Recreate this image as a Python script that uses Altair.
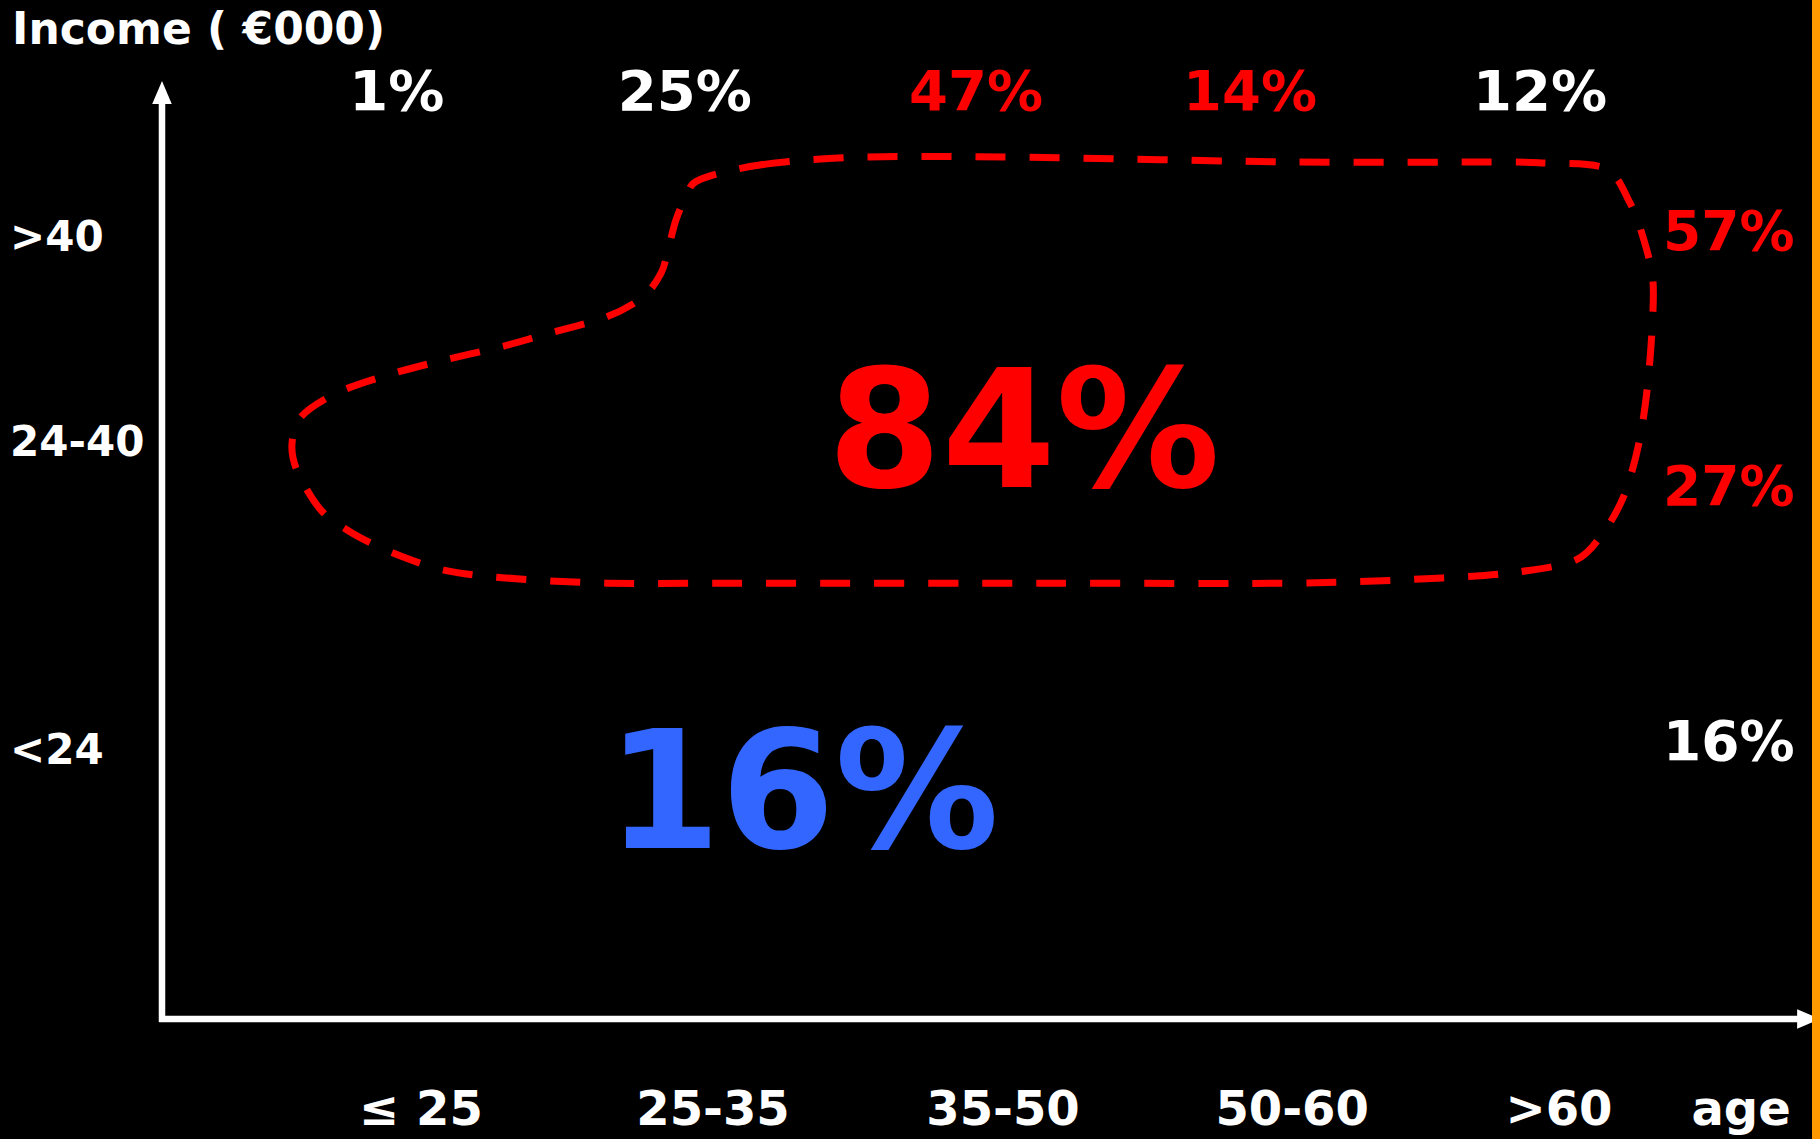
import altair as alt
import pandas as pd

# ---- data (x in "age units" from the axis origin, y in "income units") ----
# dashed boundary of the 84% region (clockwise)
loop_x = [1.852, 2.062, 2.414, 2.941, 3.910, 4.586, 4.755, 4.976, 5.062, 5.110,
          5.141, 5.138, 5.121, 5.093, 5.045, 4.976, 4.876, 4.672, 4.417, 3.910,
          3.062, 2.062, 1.534, 1.183, 0.972, 0.797, 0.655, 0.548, 0.469, 0.448,
          0.479, 0.603, 0.779, 0.972, 1.166, 1.341, 1.534, 1.659, 1.721, 1.745,
          1.772, 1.807]
loop_y = [2.893, 2.945, 2.972, 2.972, 2.955, 2.955, 2.952, 2.934, 2.814, 2.686,
          2.548, 2.376, 2.169, 1.986, 1.814, 1.686, 1.583, 1.541, 1.521, 1.503,
          1.503, 1.503, 1.503, 1.521, 1.548, 1.607, 1.676, 1.755, 1.883, 1.979,
          2.076, 2.159, 2.221, 2.272, 2.317, 2.366, 2.421, 2.490, 2.572, 2.652,
          2.755, 2.834]

age_labels = ["\u2264 25", "25-35", "35-50", "50-60", ">60", "age"]
age_x = [0.893, 1.900, 2.900, 3.897, 4.817, 5.445]
age_y = [-0.307] * 6

income_labels = [">40", "24-40", "<24"]
income_y = [2.700, 1.993, 0.931]

top_labels = ["1%", "25%", "47%", "14%", "12%"]
top_x = [0.810, 1.803, 2.807, 3.752, 4.752]
top_colors = ["white", "white", "#FF0000", "#FF0000", "white"]

right_labels = ["57%", "27%", "16%"]
right_y = [2.724, 1.845, 0.966]
right_colors = ["#FF0000", "#FF0000", "white"]

big_labels = ["84%", "16%"]
big_x = [2.972, 2.210]
big_y = [2.024, 0.779]
big_colors = ["#FF0000", "#3366FF"]

title_text = ["Income ( \u20ac000)"]

FONT = "DejaVu Sans"
X = alt.Scale(domain=[-0.55862, 5.71724], nice=False, zero=False)
Y = alt.Scale(domain=[-0.41379, 3.51379], nice=False, zero=False)


def xe(f="x"):
    return alt.X(f"{f}:Q", scale=X, axis=None)


def ye(f="y"):
    return alt.Y(f"{f}:Q", scale=Y, axis=None)


loop_df = pd.DataFrame({"x": loop_x, "y": loop_y, "o": list(range(len(loop_x)))})
loop = alt.Chart(loop_df).mark_line(
    color="#FF0000", strokeWidth=7, strokeDash=[30, 24], strokeCap="butt",
    interpolate="cardinal-closed", tension=0.1
).encode(x=xe(), y=ye(), order="o:Q")

# axes
vaxis = alt.Chart(pd.DataFrame({"x": [0.0], "y": [-0.01], "y2": [3.186]})).mark_rule(
    color="white", strokeWidth=6.5).encode(x=xe(), y=ye(), y2="y2:Q")
haxis = alt.Chart(pd.DataFrame({"x": [-0.01], "x2": [5.67], "y": [0.0]})).mark_rule(
    color="white", strokeWidth=6.5).encode(x=xe(), x2="x2:Q", y=ye())
vhead = alt.Chart(pd.DataFrame({"x": [0.0], "y": [3.1948]})).mark_point(
    shape="M0,-1L0.85,1L-0.85,1Z", filled=True, color="white", opacity=1,
    size=529, strokeWidth=0).encode(x=xe(), y=ye())
hhead = alt.Chart(pd.DataFrame({"x": [5.678], "y": [0.0]})).mark_point(
    shape="M1,0L-1,0.85L-1,-0.85Z", filled=True, color="white", opacity=1,
    size=529, strokeWidth=0).encode(x=xe(), y=ye())

orange = alt.Chart(pd.DataFrame({"a": [0]})).mark_rect(color="#FF9900").encode(
    x=alt.value(1812), x2=alt.value(1820), y=alt.value(0), y2=alt.value(1139))


def text_layer(df, size, align="center", color_field=True, color="white", dy=0):
    mk = alt.Chart(df).mark_text(font=FONT, fontWeight="bold", fontSize=size,
                                 align=align, baseline="middle",
                                 color=color, dy=dy)
    enc = dict(x=xe(), y=ye(), text="t:N")
    if color_field:
        enc["color"] = alt.Color("c:N", scale=None)
    return mk.encode(**enc)


title = text_layer(pd.DataFrame({"t": title_text, "x": [-0.517], "y": [3.414]}),
                   44, align="left", color_field=False, dy=2)
ylabels = text_layer(pd.DataFrame({"t": income_labels, "x": [-0.524] * 3, "y": income_y}),
                     42, align="left", color_field=False, dy=2)
xlabels = text_layer(pd.DataFrame({"t": age_labels, "x": age_x, "y": age_y}),
                     48, color_field=False, dy=3)
tops = text_layer(pd.DataFrame({"t": top_labels, "x": top_x, "y": [3.207] * 5,
                                "c": top_colors}), 56, dy=4)
rights = text_layer(pd.DataFrame({"t": right_labels, "x": [5.403] * 3, "y": right_y,
                                  "c": right_colors}), 55, dy=4)
bigs = text_layer(pd.DataFrame({"t": big_labels, "x": big_x, "y": big_y,
                                "c": big_colors}), 164, dy=6)

chart = alt.layer(
    loop, vaxis, haxis, vhead, hhead, orange, title, ylabels, xlabels, tops, rights, bigs
).properties(
    width=1820, height=1139, padding=0, autosize=alt.AutoSizeParams(type="none"),
    background="black"
).configure_view(strokeWidth=0, fill="black")

chart.save("out.html", embed_options={"renderer": "svg", "actions": False})
